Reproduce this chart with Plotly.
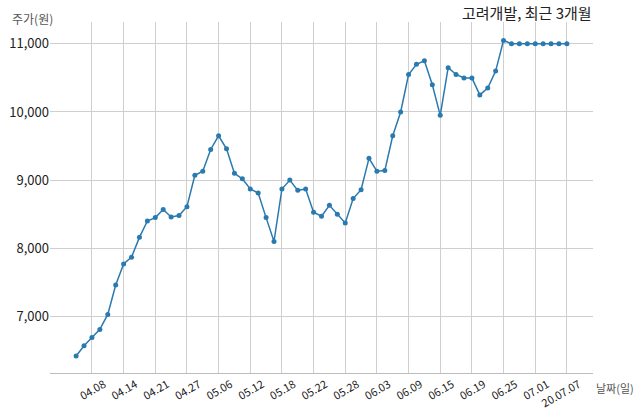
import plotly.graph_objects as go

# 거래일 (2020.04.06 ~ 2020.07.07)
dates = [
    "04.06", "04.07", "04.08", "04.09", "04.10", "04.13", "04.14", "04.16",
    "04.17", "04.20", "04.21", "04.22", "04.23", "04.24", "04.27", "04.28",
    "04.29", "05.04", "05.06", "05.07", "05.08", "05.11", "05.12", "05.13",
    "05.14", "05.15", "05.18", "05.19", "05.20", "05.21", "05.22", "05.25",
    "05.26", "05.27", "05.28", "05.29", "06.01", "06.02", "06.03", "06.04",
    "06.05", "06.08", "06.09", "06.10", "06.11", "06.12", "06.15", "06.16",
    "06.17", "06.18", "06.19", "06.22", "06.23", "06.24", "06.25", "06.26",
    "06.29", "06.30", "07.01", "07.02", "07.03", "07.06", "07.07",
]

# 종가 (원)
prices = [
    6420, 6570, 6690, 6810, 7030, 7460, 7770, 7870,
    8160, 8400, 8450, 8570, 8460, 8480, 8610, 9070,
    9130, 9450, 9650, 9460, 9100, 9020, 8870, 8810,
    8450, 8100, 8870, 9000, 8850, 8870, 8530, 8470,
    8630, 8500, 8370, 8730, 8860, 9320, 9130, 9140,
    9650, 10000, 10550, 10700, 10750, 10400, 9950, 10650,
    10550, 10500, 10500, 10250, 10350, 10600, 11050, 11000,
    11000, 11000, 11000, 11000, 11000, 11000, 11000,
]

tick_dates = ["04.08", "04.14", "04.21", "04.27", "05.06", "05.12", "05.18", "05.22",
              "05.28", "06.03", "06.09", "06.15", "06.19", "06.25", "07.01", "07.07"]
tick_text = tick_dates[:-1] + ["20.07.07"]

y_ticks = [7000, 8000, 9000, 10000, 11000]

font = "Noto Sans CJK KR"
blue = "#2a7ab0"

fig = go.Figure()
fig.add_trace(go.Scatter(
    x=dates, y=prices, mode="lines+markers",
    line=dict(color=blue, width=1.5),
    marker=dict(color=blue, size=5),
    hoverinfo="x+y",
))

fig.update_layout(
    width=640, height=414,
    margin=dict(l=50, r=47, t=22, b=41),
    plot_bgcolor="white", paper_bgcolor="white",
    showlegend=False,
    font=dict(family=font, size=12, color="#222"),
)

fig.update_xaxes(
    type="category",
    range=[-3.3, 65.3],
    tickmode="array", tickvals=tick_dates, ticktext=tick_text,
    tickangle=-30, tickfont=dict(size=11, color="#222"),
    ticklabelshift=12,
    showgrid=True, gridcolor="#cfcfcf", gridwidth=1,
    showline=True, linecolor="#bdbdbd", linewidth=1,
    ticks="", zeroline=False, automargin=False,
)
fig.update_yaxes(
    range=[6170, 11320],
    tickmode="array", tickvals=y_ticks,
    ticktext=[f"{v:,}" for v in y_ticks],
    tickfont=dict(size=13, color="#222"),
    showgrid=True, gridcolor="#cfcfcf", gridwidth=1,
    showline=False, ticks="", zeroline=False, automargin=False,
)

fig.add_annotation(text="고려개발, 최근 3개월", xref="paper", yref="paper",
                   x=1, y=1, xanchor="right", yanchor="bottom", yshift=-2,
                   borderpad=0, showarrow=False, font=dict(size=15, color="#222"))
fig.add_annotation(text="주가(원)", xref="paper", yref="paper",
                   x=0, y=1, xanchor="right", yanchor="bottom", xshift=5, yshift=-7,
                   showarrow=False, font=dict(size=12, color="#555"))
fig.add_annotation(text="날짜(일)", xref="paper", yref="paper",
                   x=1, y=0, xanchor="left", yanchor="top", xshift=1, yshift=-5,
                   showarrow=False, font=dict(size=11, color="#555"))

# body 기본 여백 제거 (창 크기에 딱 맞게), 모드바 숨김
fig.write_html("out.html", config={"displayModeBar": False},
               post_script="document.body.style.margin='0';")
